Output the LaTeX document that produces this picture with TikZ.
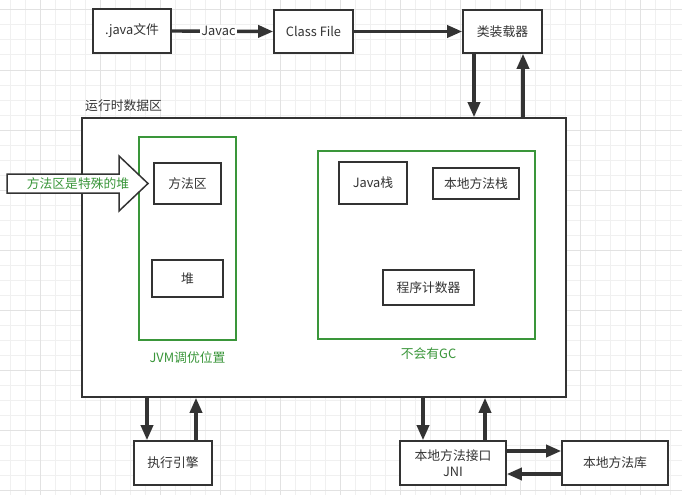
\documentclass[tikz,border=0pt]{standalone}
\usepackage{fontspec}
\setmainfont{Noto Sans CJK SC}
\usetikzlibrary{arrows.meta}
\definecolor{ink}{HTML}{333333}
\definecolor{grn}{HTML}{3A963A}
\definecolor{gmin}{HTML}{F0F0F0}
\definecolor{gmaj}{HTML}{E2E2E2}
\tikzset{
  box/.style={draw=ink, line width=1.6pt, fill=white, text=ink, rectangle, inner sep=0pt, font=\fontsize{12.8}{15}\selectfont, align=center},
  gbox/.style={draw=grn, line width=1.6pt, fill=white, rectangle, inner sep=0pt},
  arr/.style={draw=ink, line width=3.4pt, -{Triangle[length=15pt,width=12pt]}},
  lbl/.style={font=\fontsize{12.8}{15}\selectfont, inner sep=1pt},
}
\begin{document}
\begin{tikzpicture}[x=1pt,y=-1pt]
\fill[white] (0,0) rectangle (682,495);
\useasboundingbox (0,0) rectangle (682,495);
% grid
\foreach \i in {0,...,44} \draw[gmin, line width=1pt] ({10+15*\i},0) -- ({10+15*\i},495);
\foreach \i in {0,...,32} \draw[gmin, line width=1pt] (0,{10+15*\i}) -- (682,{10+15*\i});
\foreach \x in {40,100,...,640} \draw[gmaj, line width=1pt] (\x,0) -- (\x,495);
\foreach \y in {10,70,...,490} \draw[gmaj, line width=1pt] (0,\y) -- (682,\y);

% top row
\node[box, minimum width=78pt, minimum height=44pt] (java) at (132,31) {.java文件};
\node[box, minimum width=79pt, minimum height=43pt] (cls) at (313.5,31.5) {Class File};
\node[box, minimum width=79pt, minimum height=43pt] (loader) at (502.5,31.5) {类装载器};

% runtime data area
\node[lbl, text=ink, anchor=west] (rtl) at (84,106) {运行时数据区};
\node[box, minimum width=484pt, minimum height=279pt] (jvm) at (324,257.5) {};

\node[gbox, minimum width=97pt, minimum height=203pt] (g1) at (187.5,238.5) {};
\node[gbox, minimum width=217pt, minimum height=188pt] (g2) at (426.5,245) {};
\node[lbl, text=grn] (g1l) at (187.5,358) {JVM调优位置};
\node[lbl, text=grn] (g2l) at (428.5,354) {不会有GC};

\node[box, minimum width=67pt, minimum height=41pt] (mth) at (187.5,183.5) {方法区};
\node[box, minimum width=71pt, minimum height=37pt] (heap) at (187.5,278.5) {堆};
\node[box, minimum width=68pt, minimum height=42pt] (jstack) at (373,183) {Java栈};
\node[box, minimum width=86pt, minimum height=31pt] (nstack) at (476,183.5) {本地方法栈};
\node[box, minimum width=91pt, minimum height=35pt] (pc) at (428.5,287.5) {程序计数器};

% bottom row
\node[box, minimum width=78pt, minimum height=44pt] (exec) at (173,463) {执行引擎};
\node[box, minimum width=106pt, minimum height=44pt, font=\fontsize{12.8}{15.5}\selectfont] (jni) at (453,463) {本地方法接口\\JNI};
\node[box, minimum width=106pt, minimum height=44pt] (lib) at (615,463) {本地方法库};

% block arrow
\filldraw[fill=white, draw=ink, line width=1.5pt, line join=miter]
  (7,174) -- (119,174) -- (119,156) -- (148,183.5) -- (119,211) -- (119,193) -- (7,193) -- cycle;
\node[lbl, text=grn] (note) at (78,183.5) {方法区是特殊的堆};

% connectors
\draw[arr] (java.east) -- node[lbl, fill=white, text=ink, pos=0.46] (javac) {Javac} (cls.west);
\draw[arr] (cls.east) -- (loader.west);
\draw[arr] ([xshift=-28.5pt]loader.south) -- ([xshift=-28.5pt]loader.south |- jvm.north);
\draw[arr] ([xshift=20.5pt]loader.south |- jvm.north) -- ([xshift=20.5pt]loader.south);
\draw[arr] ([xshift=-26pt]exec.north |- jvm.south) -- ([xshift=-26pt]exec.north);
\draw[arr] ([xshift=23pt]exec.north) -- ([xshift=23pt]exec.north |- jvm.south);
\draw[arr] ([xshift=-30pt]jni.north |- jvm.south) -- ([xshift=-30pt]jni.north);
\draw[arr] ([xshift=32pt]jni.north) -- ([xshift=32pt]jni.north |- jvm.south);
\draw[arr] ([yshift=12pt]jni.east) -- ([yshift=12pt]jni.east -| lib.west);
\draw[arr] ([yshift=-11pt]lib.west) -- ([yshift=-11pt]lib.west -| jni.east);
\end{tikzpicture}
\end{document}
